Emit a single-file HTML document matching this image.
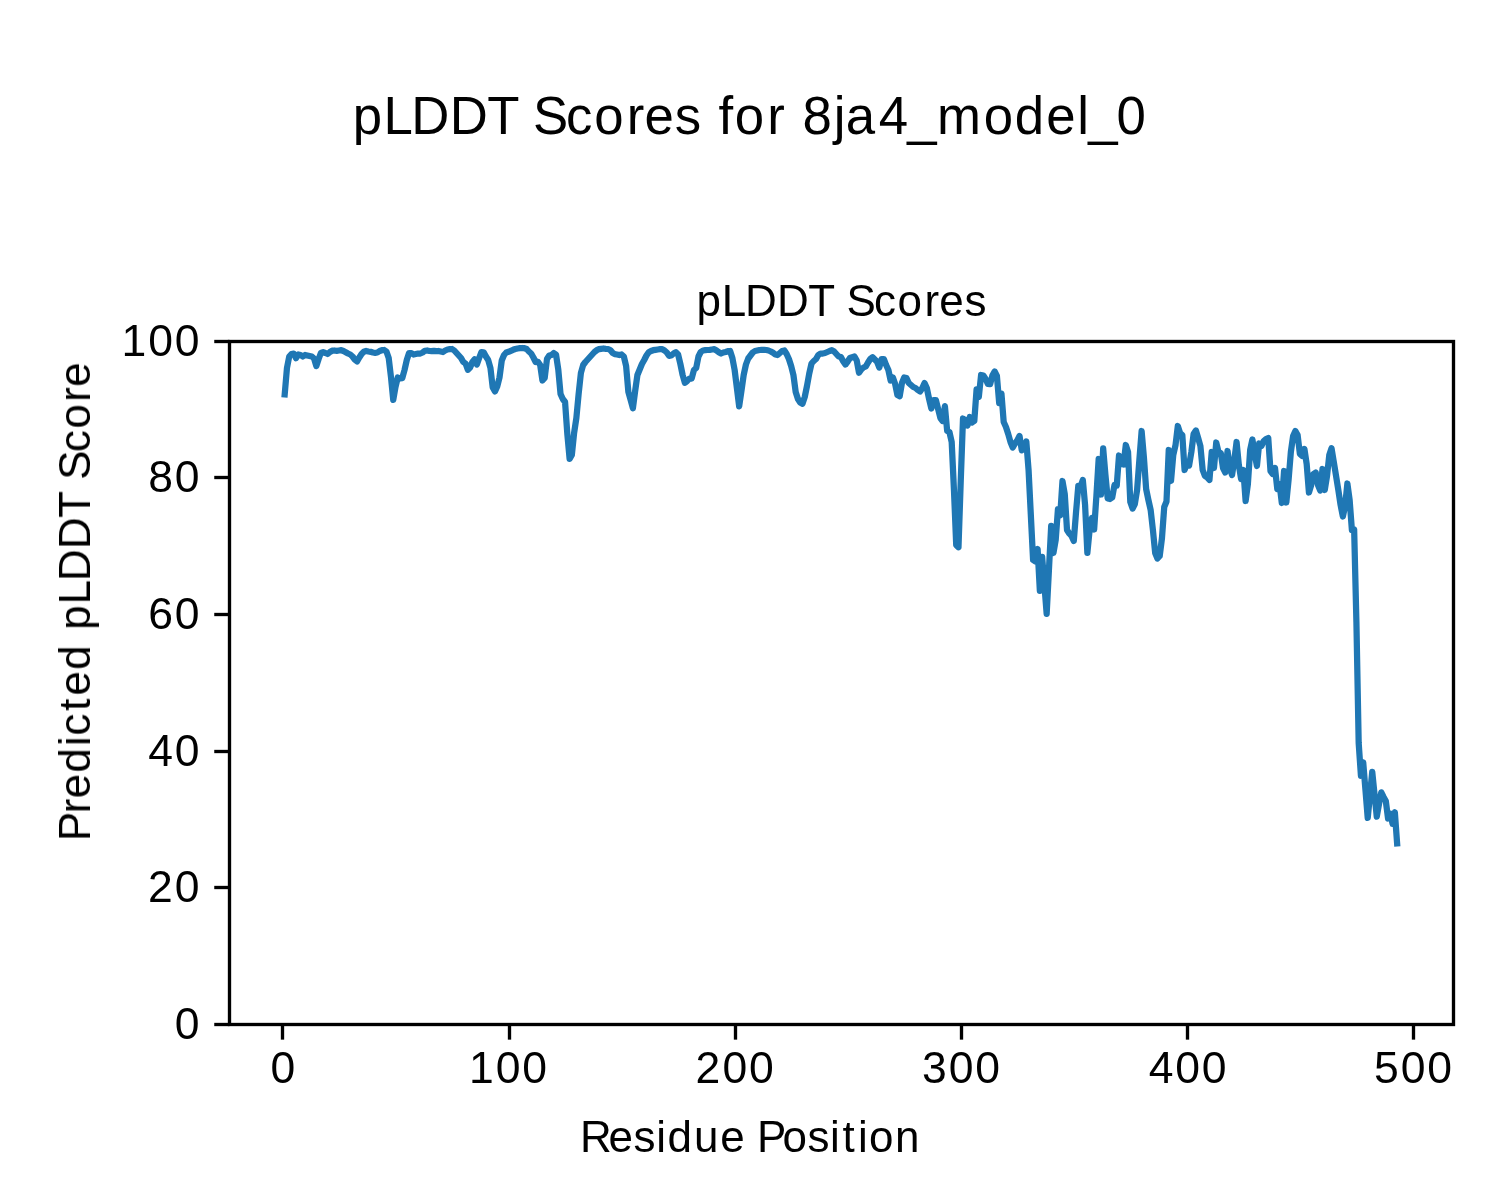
<!DOCTYPE html>
<html><head><meta charset="utf-8"><title>pLDDT Scores for 8ja4_model_0</title>
<style>
html,body{margin:0;padding:0;background:#fff;}
svg{display:block;}
text{font-family:"Liberation Sans",sans-serif;fill:#000;}
</style></head>
<body>
<svg width="1500" height="1200" viewBox="0 0 1500 1200">
<rect x="0" y="0" width="1500" height="1200" fill="#ffffff"/>
<polyline fill="none" stroke="#1f77b4" stroke-width="6.25" stroke-linejoin="round" stroke-linecap="square" points="284.70,394.40 286.96,368.00 289.22,356.50 291.48,354.00 293.74,353.60 296.00,358.20 298.27,354.50 300.53,355.00 302.79,356.50 305.05,355.00 307.31,355.50 309.57,356.00 311.83,356.50 314.09,358.50 316.35,366.00 318.62,359.00 320.88,353.00 323.14,352.20 325.40,353.00 327.66,354.00 329.92,352.00 332.18,350.70 334.44,350.50 336.70,350.80 338.96,350.50 341.23,350.20 343.49,351.00 345.75,352.20 348.01,353.50 350.27,354.50 352.53,356.50 354.79,359.50 357.05,361.40 359.31,357.50 361.57,354.00 363.83,351.80 366.10,351.00 368.36,351.50 370.62,351.80 372.88,352.50 375.14,352.80 377.40,352.50 379.66,351.00 381.92,350.20 384.18,350.00 386.44,351.50 388.71,358.00 390.97,377.00 393.23,399.90 395.49,387.00 397.75,377.50 400.01,378.50 402.27,378.20 404.53,370.00 406.79,360.00 409.06,353.00 411.32,353.00 413.58,354.50 415.84,354.00 418.10,353.50 420.36,353.50 422.62,352.50 424.88,350.80 427.14,350.50 429.40,351.00 431.66,351.20 433.93,350.80 436.19,351.20 438.45,351.00 440.71,351.50 442.97,352.00 445.23,350.50 447.49,349.50 449.75,349.20 452.01,349.00 454.27,350.50 456.54,353.00 458.80,355.50 461.06,358.00 463.32,362.00 465.58,363.50 467.84,369.80 470.10,367.50 472.36,362.00 474.62,359.40 476.88,364.60 479.15,358.00 481.41,352.10 483.67,352.30 485.93,356.50 488.19,360.00 490.45,368.00 492.71,387.50 494.97,391.40 497.23,386.50 499.50,377.50 501.76,360.50 504.02,355.00 506.28,352.50 508.54,351.80 510.80,350.80 513.06,349.80 515.32,349.00 517.58,348.50 519.84,348.20 522.11,348.00 524.37,348.20 526.63,349.00 528.89,351.50 531.15,353.50 533.41,357.50 535.67,362.00 537.93,361.80 540.19,365.00 542.45,380.50 544.71,378.00 546.98,359.00 549.24,355.50 551.50,355.00 553.76,353.00 556.02,354.50 558.28,369.50 560.54,394.00 562.80,399.00 565.06,402.00 567.33,434.00 569.59,458.80 571.85,455.00 574.11,433.00 576.37,418.00 578.63,394.00 580.89,373.00 583.15,365.00 585.41,362.00 587.67,359.50 589.93,357.00 592.20,354.50 594.46,352.00 596.72,350.20 598.98,349.20 601.24,348.80 603.50,348.50 605.76,348.80 608.02,349.00 610.28,350.00 612.55,352.80 614.81,354.20 617.07,354.50 619.33,355.00 621.59,354.50 623.85,356.50 626.11,366.00 628.37,392.00 630.63,400.00 632.89,408.30 635.15,391.00 637.42,375.00 639.68,369.50 641.94,364.00 644.20,360.00 646.46,355.50 648.72,352.20 650.98,351.00 653.24,350.20 655.50,349.80 657.76,349.50 660.03,349.20 662.29,349.20 664.55,350.50 666.81,352.50 669.07,355.80 671.33,355.50 673.59,353.50 675.85,352.20 678.11,354.50 680.38,364.00 682.64,375.00 684.90,382.80 687.16,381.00 689.42,378.50 691.68,378.50 693.94,370.00 696.20,368.00 698.46,356.50 700.72,352.00 702.99,350.50 705.25,350.20 707.51,350.00 709.77,349.80 712.03,349.50 714.29,349.20 716.55,350.50 718.81,352.20 721.07,353.50 723.33,352.50 725.60,352.00 727.86,351.20 730.12,351.00 732.38,358.00 734.64,370.00 736.90,388.00 739.16,406.30 741.42,391.00 743.68,375.00 745.94,364.50 748.21,358.50 750.47,355.50 752.73,352.50 754.99,351.00 757.25,350.50 759.51,350.00 761.77,349.80 764.03,349.80 766.29,350.00 768.55,350.50 770.82,351.50 773.08,352.80 775.34,354.50 777.60,355.00 779.86,353.00 782.12,351.00 784.38,350.50 786.64,354.00 788.90,359.00 791.16,366.00 793.42,375.00 795.69,392.00 797.95,399.00 800.21,402.50 802.47,403.80 804.73,397.00 806.99,386.00 809.25,373.50 811.51,363.50 813.77,361.00 816.04,359.00 818.30,355.00 820.56,353.50 822.82,353.50 825.08,353.00 827.34,352.00 829.60,351.00 831.86,350.20 834.12,351.50 836.38,354.00 838.64,356.50 840.91,357.00 843.17,361.20 845.43,364.50 847.69,361.50 849.95,358.00 852.21,357.20 854.47,356.50 856.73,360.50 858.99,372.80 861.26,369.50 863.52,367.50 865.78,366.50 868.04,362.50 870.30,359.00 872.56,357.20 874.82,359.50 877.08,361.80 879.34,367.50 881.60,359.00 883.87,359.00 886.13,365.00 888.39,370.00 890.65,380.50 892.91,377.50 895.17,384.00 897.43,395.00 899.69,396.20 901.95,383.00 904.21,377.50 906.47,378.00 908.74,383.00 911.00,385.00 913.26,387.00 915.52,388.00 917.78,390.00 920.04,391.50 922.30,388.00 924.56,383.00 926.82,388.00 929.09,399.00 931.35,408.50 933.61,400.00 935.87,400.00 938.13,409.00 940.39,418.00 942.65,421.00 944.91,406.20 947.17,431.00 949.43,432.00 951.69,442.00 953.96,490.00 956.22,545.00 958.48,547.30 960.74,481.00 963.00,418.50 965.26,420.00 967.52,425.50 969.78,417.00 972.04,422.50 974.31,421.00 976.57,389.40 978.83,396.90 981.09,375.00 983.35,375.50 985.61,379.00 987.87,383.80 990.13,384.20 992.39,375.50 994.65,371.40 996.91,376.00 999.18,403.00 1001.44,393.50 1003.70,422.00 1005.96,427.00 1008.22,434.00 1010.48,442.00 1012.74,447.50 1015.00,443.50 1017.26,440.50 1019.53,436.00 1021.79,450.30 1024.05,448.00 1026.31,441.50 1028.57,470.00 1030.83,515.00 1033.09,560.00 1035.35,561.50 1037.61,549.00 1039.87,590.80 1042.13,556.80 1044.40,585.00 1046.66,613.80 1048.92,570.00 1051.18,525.80 1053.44,553.00 1055.70,540.00 1057.96,509.10 1060.22,515.40 1062.48,481.00 1064.75,494.00 1067.01,530.00 1069.27,533.50 1071.53,536.00 1073.79,541.00 1076.05,512.00 1078.31,485.85 1080.57,486.50 1082.83,480.00 1085.09,505.00 1087.36,552.90 1089.62,530.00 1091.88,518.00 1094.14,529.50 1096.40,496.00 1098.66,459.00 1100.92,494.50 1103.18,448.40 1105.44,475.00 1107.70,498.50 1109.97,499.00 1112.23,497.50 1114.49,485.00 1116.75,485.50 1119.01,455.50 1121.27,464.00 1123.53,464.50 1125.79,445.00 1128.05,452.00 1130.31,502.00 1132.58,508.50 1134.84,504.00 1137.10,490.00 1139.36,460.00 1141.62,431.00 1143.88,457.00 1146.14,489.00 1148.40,500.00 1150.66,510.00 1152.92,530.00 1155.18,553.00 1157.45,558.50 1159.71,556.00 1161.97,538.00 1164.23,507.00 1166.49,501.50 1168.75,450.00 1171.01,481.00 1173.27,455.00 1175.53,445.00 1177.80,426.00 1180.06,433.00 1182.32,435.00 1184.58,470.00 1186.84,464.00 1189.10,465.50 1191.36,452.00 1193.62,434.00 1195.88,430.50 1198.14,438.00 1200.40,446.00 1202.67,470.00 1204.93,476.00 1207.19,477.50 1209.45,480.00 1211.71,452.00 1213.97,468.00 1216.23,442.50 1218.49,452.00 1220.75,453.00 1223.02,468.00 1225.28,472.50 1227.54,451.00 1229.80,468.00 1232.06,475.00 1234.32,460.00 1236.58,442.00 1238.84,465.00 1241.10,479.00 1243.36,470.00 1245.62,501.00 1247.89,484.00 1250.15,450.00 1252.41,439.50 1254.67,454.00 1256.93,466.00 1259.19,443.50 1261.45,446.00 1263.71,441.00 1265.97,439.00 1268.24,438.00 1270.50,471.00 1272.76,474.00 1275.02,468.00 1277.28,489.00 1279.54,484.00 1281.80,503.00 1284.06,471.00 1286.32,502.50 1288.58,480.00 1290.85,452.00 1293.11,436.00 1295.37,431.00 1297.63,435.00 1299.89,454.00 1302.15,456.00 1304.41,449.00 1306.67,464.00 1308.93,492.50 1311.19,485.00 1313.46,474.00 1315.72,472.50 1317.98,485.00 1320.24,490.50 1322.50,469.00 1324.76,490.00 1327.02,476.00 1329.28,455.00 1331.54,448.20 1333.80,462.00 1336.07,476.00 1338.33,490.00 1340.59,505.00 1342.85,516.50 1345.11,506.00 1347.37,483.50 1349.63,500.00 1351.89,530.00 1354.15,529.50 1356.41,622.00 1358.68,743.00 1360.94,775.75 1363.20,762.25 1365.46,790.00 1367.72,817.90 1369.98,795.00 1372.24,771.90 1374.50,794.00 1376.76,816.65 1379.02,804.00 1381.29,792.40 1383.55,797.00 1385.81,801.00 1388.07,818.50 1390.33,813.50 1392.59,823.90 1394.85,812.20 1397.11,843.40"/>
<rect x="229.5" y="341.5" width="1224.0" height="683.0" fill="none" stroke="#000" stroke-width="3.333" stroke-linejoin="miter"/>
<line x1="282.50" y1="1024.5" x2="282.50" y2="1039.65" stroke="#000" stroke-width="3.333"/>
<line x1="509.50" y1="1024.5" x2="509.50" y2="1039.65" stroke="#000" stroke-width="3.333"/>
<line x1="735.50" y1="1024.5" x2="735.50" y2="1039.65" stroke="#000" stroke-width="3.333"/>
<line x1="961.50" y1="1024.5" x2="961.50" y2="1039.65" stroke="#000" stroke-width="3.333"/>
<line x1="1187.50" y1="1024.5" x2="1187.50" y2="1039.65" stroke="#000" stroke-width="3.333"/>
<line x1="1413.50" y1="1024.5" x2="1413.50" y2="1039.65" stroke="#000" stroke-width="3.333"/>
<line x1="229.5" y1="1024.50" x2="214.25" y2="1024.50" stroke="#000" stroke-width="3.333"/>
<line x1="229.5" y1="887.50" x2="214.25" y2="887.50" stroke="#000" stroke-width="3.333"/>
<line x1="229.5" y1="751.50" x2="214.25" y2="751.50" stroke="#000" stroke-width="3.333"/>
<line x1="229.5" y1="614.50" x2="214.25" y2="614.50" stroke="#000" stroke-width="3.333"/>
<line x1="229.5" y1="477.50" x2="214.25" y2="477.50" stroke="#000" stroke-width="3.333"/>
<line x1="229.5" y1="341.50" x2="214.25" y2="341.50" stroke="#000" stroke-width="3.333"/>
<g id="labels" opacity="0.999">
<text x="270.51" y="1083.00" font-size="44.50">0</text>
<text x="468.97 495.70 522.20" y="1083.00" font-size="44.50">100</text>
<text x="695.58 722.50 749.00" y="1083.00" font-size="44.50">200</text>
<text x="922.10 948.66 975.16" y="1083.00" font-size="44.50">300</text>
<text x="1148.77 1175.27 1201.77" y="1083.00" font-size="44.50">400</text>
<text x="1374.12 1400.78 1427.28" y="1083.00" font-size="44.50">500</text>
<text x="174.83" y="1039.00" font-size="44.50">0</text>
<text x="147.90 174.83" y="902.00" font-size="44.50">20</text>
<text x="148.33 174.83" y="766.00" font-size="44.50">40</text>
<text x="148.33 174.83" y="629.00" font-size="44.50">60</text>
<text x="148.20 174.83" y="492.00" font-size="44.50">80</text>
<text x="121.60 148.33 174.83" y="356.00" font-size="44.50">100</text>
<text x="352.87 383.40 411.26 449.76 487.16 518.61 533.03 566.07 594.25 626.69 644.55 674.67 700.61 718.60 734.75 767.19 785.36 802.46 833.70 845.75 878.83 907.29 936.88 983.75 1014.64 1046.30 1077.32 1088.17 1116.46" y="134.00" font-size="52.75">pLDDT Scores for 8ja4_model_0</text>
<text x="696.38 721.73 744.97 777.10 808.30 834.37 846.40 874.08 897.52 924.41 939.29 964.40" y="316.00" font-size="43.96">pLDDT Scores</text>
<text x="579.97 608.51 633.62 656.14 667.46 693.98 720.14 745.09 756.93 782.49 807.49 830.01 842.54 857.89 868.99 894.91" y="1152.00" font-size="43.96">Residue Position</text>
<text transform="translate(90.00,835.60) rotate(-90)" x="-5.50 22.33 37.21 62.91 89.46 100.00 124.86 139.96 165.66 191.29 205.80 231.15 254.39 286.52 317.72 343.79 355.82 383.50 406.94 433.83 448.71" y="0" font-size="43.96">Predicted pLDDT Score</text>
</g>
</svg>
</body></html>
